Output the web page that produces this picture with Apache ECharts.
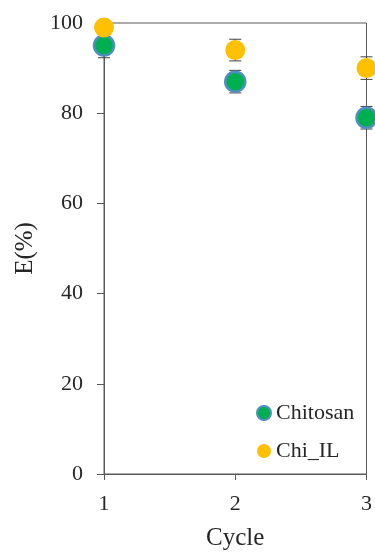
<!DOCTYPE html>
<html>
<head>
<meta charset="utf-8">
<style>
  html, body { margin: 0; padding: 0; background: #fff; }
  #chart { width: 375px; height: 556px; }
</style>
<script src="https://cdn.jsdelivr.net/npm/echarts@6/dist/echarts.min.js"></script>
</head>
<body>
<div id="chart"></div>
<script>
// Extraction efficiency over reuse cycles
const cycles = [1, 2, 3];
const chitosanE = [95, 87, 79];
const chitosanErr = [2.7, 2.5, 2.5];
const chiILE = [99, 94, 90];
const chiILErr = [1.0, 2.4, 2.5];
const yTicks = [0, 20, 40, 60, 80, 100];

const FONT = '"Liberation Serif", "Times New Roman", serif';
const AXIS_COLOR = '#595959';
const TEXT_COLOR = '#262626';

function pairs(xs, ys) { return xs.map((x, i) => [x, ys[i]]); }
function errData(xs, ys, es) { return xs.map((x, i) => [x, ys[i] - es[i], ys[i] + es[i]]); }

// Vertical error bar with caps, positioned through the axis scales
function renderErrorBar(params, api) {
  const x = api.value(0);
  const lo = api.coord([x, api.value(1)]);
  const hi = api.coord([x, api.value(2)]);
  const half = 6;
  const style = { stroke: '#404040', lineWidth: 1 };
  return {
    type: 'group',
    children: [
      { type: 'line', shape: { x1: hi[0], y1: hi[1], x2: lo[0], y2: lo[1] }, style },
      { type: 'line', shape: { x1: hi[0] - half, y1: hi[1], x2: hi[0] + half, y2: hi[1] }, style },
      { type: 'line', shape: { x1: lo[0] - half, y1: lo[1], x2: lo[0] + half, y2: lo[1] }, style }
    ]
  };
}

const chart = echarts.init(document.getElementById('chart'), null, { renderer: 'canvas' });

chart.setOption({
  backgroundColor: '#ffffff',
  animation: false,
  grid: {
    left: 104, right: 8, top: 23, bottom: 80,
    show: true, borderColor: AXIS_COLOR, borderWidth: 1, backgroundColor: 'transparent'
  },
  legend: {
    orient: 'vertical',
    left: 251, top: 397,
    itemWidth: 14, itemHeight: 14, itemGap: 16,
    textStyle: { fontFamily: FONT, fontSize: 22, color: TEXT_COLOR },
    data: [
      { name: 'Chitosan', icon: 'circle', itemStyle: { color: '#00b050', borderColor: '#4f8fc0', borderWidth: 2 } },
      { name: 'Chi_IL', icon: 'circle', itemStyle: { color: '#ffc000', borderWidth: 0 } }
    ]
  },
  xAxis: {
    type: 'value',
    min: cycles[0], max: cycles[cycles.length - 1], interval: 1,
    name: 'Cycle', nameLocation: 'middle', nameGap: 52,
    nameTextStyle: { fontFamily: FONT, fontSize: 25, color: TEXT_COLOR },
    axisLine: { show: true, lineStyle: { color: AXIS_COLOR, width: 1 } },
    axisTick: { show: true, length: 6, lineStyle: { color: AXIS_COLOR } },
    axisLabel: { fontFamily: FONT, fontSize: 22, color: TEXT_COLOR, margin: 19 },
    splitLine: { show: false }
  },
  yAxis: {
    type: 'value',
    min: yTicks[0], max: yTicks[yTicks.length - 1], interval: yTicks[1] - yTicks[0],
    name: 'E(%)', nameLocation: 'middle', nameGap: 66,
    nameTextStyle: { fontFamily: FONT, fontSize: 25, color: TEXT_COLOR },
    axisLine: { show: true, lineStyle: { color: AXIS_COLOR, width: 1 } },
    axisTick: { show: true, length: 7, lineStyle: { color: AXIS_COLOR } },
    axisLabel: { fontFamily: FONT, fontSize: 22, color: TEXT_COLOR, margin: 21 },
    splitLine: { show: false }
  },
  series: [
    {
      type: 'custom', name: 'Chitosan err', silent: true, z: 1,
      renderItem: renderErrorBar, encode: { x: 0, y: [1, 2] },
      data: errData(cycles, chitosanE, chitosanErr)
    },
    {
      type: 'custom', name: 'Chi_IL err', silent: true, z: 1,
      renderItem: renderErrorBar, encode: { x: 0, y: [1, 2] },
      data: errData(cycles, chiILE, chiILErr)
    },
    {
      type: 'scatter', name: 'Chitosan', z: 3,
      symbol: 'circle', symbolSize: 20, clip: false,
      itemStyle: { color: '#00b050', borderColor: '#4f8fc0', borderWidth: 2.5, opacity: 1 },
      data: pairs(cycles, chitosanE)
    },
    {
      type: 'scatter', name: 'Chi_IL', z: 4,
      symbol: 'circle', symbolSize: 20, clip: false,
      itemStyle: { color: '#ffc000', opacity: 1 },
      data: pairs(cycles, chiILE)
    }
  ]
});
</script>
</body>
</html>
